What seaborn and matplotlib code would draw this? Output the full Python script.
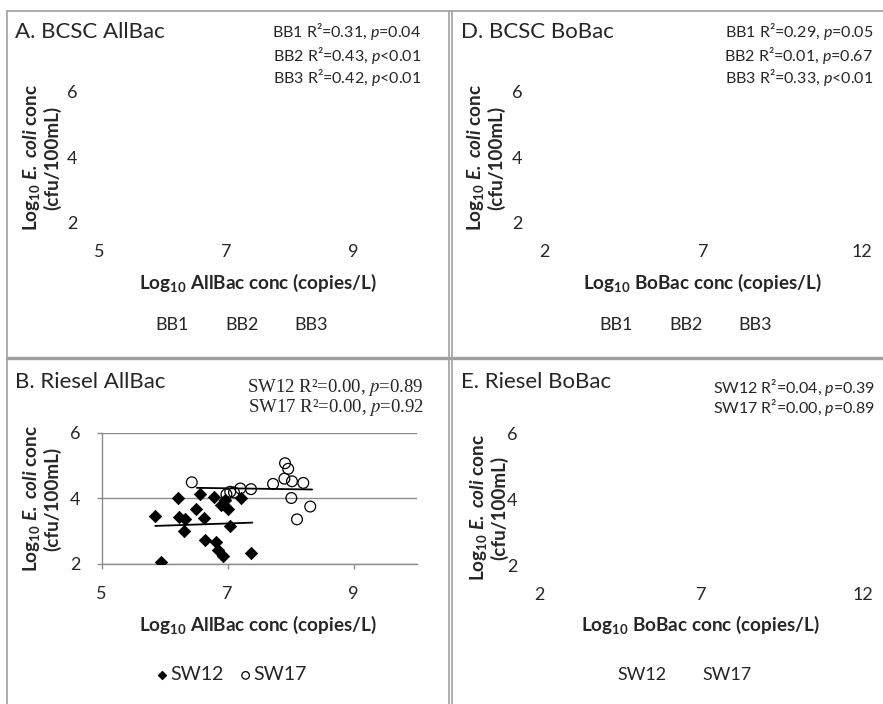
import numpy as np
import pandas as pd
import matplotlib
matplotlib.use("Agg")
import matplotlib.pyplot as plt
from matplotlib.lines import Line2D
import seaborn as sns

# ---------------- data ----------------
# Panel B: Riesel AllBac
sw12_x = [5.85, 5.94, 6.21, 6.22, 6.32, 6.31, 6.50, 6.56, 6.62, 6.64,
          6.78, 6.82, 6.84, 6.92, 6.89, 6.96, 7.01, 7.03, 7.21, 7.37]
sw12_y = [3.46, 2.05, 4.00, 3.44, 3.37, 3.01, 3.67, 4.13, 3.41, 2.73,
          4.05, 2.68, 2.43, 2.24, 3.80, 3.95, 3.67, 3.16, 4.00, 2.35]
sw17_x = [6.43, 6.98, 7.04, 7.10, 7.20, 7.37, 7.72, 7.91, 7.96, 7.90,
          8.02, 8.20, 8.01, 8.31, 8.10]
sw17_y = [4.49, 4.12, 4.20, 4.18, 4.30, 4.28, 4.44, 5.07, 4.90, 4.60,
          4.52, 4.47, 4.01, 3.75, 3.36]
# trendline end points
sw12_trend_x = [5.85, 7.39]
sw12_trend_y = [3.16, 3.26]
sw17_trend_x = [6.51, 8.34]
sw17_trend_y = [4.32, 4.27]

allbac_ticks = [5, 7, 9]
bobac_ticks = [2, 7, 12]
ecoli_ticks = [2, 4, 6]

titles = ["A. BCSC AllBac", "D. BCSC BoBac", "B. Riesel AllBac", "E. Riesel BoBac"]
stats_A = ["BB1 R²=0.31, $\\mathit{p}$=0.04",
           "BB2 R²=0.43, $\\mathit{p}$<0.01",
           "BB3 R²=0.42, $\\mathit{p}$<0.01"]
stats_D = ["BB1 R²=0.29, $\\mathit{p}$=0.05",
           "BB2 R²=0.01, $\\mathit{p}$=0.67",
           "BB3 R²=0.33, $\\mathit{p}$<0.01"]
stats_B = ["SW12 R²=0.00, $\\mathit{p}$=0.89",
           "SW17 R²=0.00, $\\mathit{p}$=0.92"]
stats_E = ["SW12 R²=0.04, $\\mathit{p}$=0.39",
           "SW17 R²=0.00, $\\mathit{p}$=0.89"]
bb_sites = ["BB1", "BB2", "BB3"]
sw_sites = ["SW12", "SW17"]

xlab_all = r"Log$_{\mathbf{10}}$ AllBac conc (copies/L)"
xlab_bo = r"Log$_{\mathbf{10}}$ BoBac conc (copies/L)"
ylab = "Log$_{\\mathbf{10}}$ $\\mathbfit{E.}$ $\\mathbfit{coli}$ conc\n(cfu/100mL)"

# ---------------- style ----------------
sns.set_style("white")
plt.rcParams['font.family'] = ['Lato', 'DejaVu Sans']
plt.rcParams['mathtext.fontset'] = 'custom'
plt.rcParams['mathtext.rm'] = 'Lato'
plt.rcParams['mathtext.it'] = 'Lato:italic'
plt.rcParams['mathtext.bf'] = 'Lato:bold'
plt.rcParams['mathtext.bfit'] = 'Lato:bold:italic'
plt.rcParams['mathtext.sf'] = 'Lato'

W, H = 883, 704
fig = plt.figure(figsize=(W / 100, H / 100), dpi=100)
fig.patch.set_facecolor('white')

GRID = '#8c8c8c'
BORDER = '#a0a0a0'
TICK_FS = 13
LAB_FS = 13.6
TITLE_FS = 16
STAT_FS = 11.5
LEG_FS = 13


def fxy(px, py):
    return px / W, 1 - py / H


def make_axes(left, top, right, bottom):
    return fig.add_axes([left / W, 1 - bottom / H, (right - left) / W, (bottom - top) / H])


def style_empty(ax, xlim, xticks):
    ax.set_xlim(*xlim)
    ax.set_ylim(2, 6)
    ax.set_xticks(xticks)
    ax.set_yticks(ecoli_ticks)
    for s in ax.spines.values():
        s.set_visible(False)
    ax.tick_params(axis='x', length=0, pad=15.5, labelsize=TICK_FS)
    ax.tick_params(axis='y', length=0, pad=15.5, labelsize=TICK_FS)
    ax.patch.set_alpha(0)


def add_labels(ax, xlab, xl_pos, yl_pos):
    fig.text(*fxy(*xl_pos), xlab, ha='center', va='center', fontsize=LAB_FS,
             fontweight='bold')
    fig.text(*fxy(*yl_pos), ylab, ha='center', va='center', rotation=90,
             fontsize=LAB_FS, fontweight='bold', linespacing=1.1,
             multialignment='center')


def add_stats(lines, right, ys, **kw):
    for s, y in zip(lines, ys):
        fig.text(*fxy(right, y), s, ha='right', va='center', **kw)


def empty_legend(ax, labels, center):
    handles = [Line2D([], [], linestyle='none') for _ in labels]
    ax.legend(handles, labels, loc='center', bbox_to_anchor=fxy(*center),
              bbox_transform=fig.transFigure, ncol=len(labels), frameon=False,
              fontsize=LEG_FS, handlelength=1.0, handletextpad=0.4,
              columnspacing=0.6, borderpad=0)


# ---------------- panel A ----------------
axA = make_axes(99, 92, 417, 222)
style_empty(axA, (5, 10), allbac_ticks)
fig.text(*fxy(15, 32), titles[0], ha='left', va='center', fontsize=TITLE_FS)
add_stats(stats_A, 421, [32, 55, 78], fontsize=STAT_FS)
add_labels(axA, xlab_all, (258, 283), (41, 158))
empty_legend(axA, bb_sites, (229, 325))

# ---------------- panel D ----------------
axD = make_axes(544, 92, 862, 222)
style_empty(axD, (2, 12), bobac_ticks)
fig.text(*fxy(461, 32), titles[1], ha='left', va='center', fontsize=TITLE_FS)
add_stats(stats_D, 873, [32, 55, 78], fontsize=STAT_FS)
add_labels(axD, xlab_bo, (702, 283), (485, 158))
empty_legend(axD, bb_sites, (673, 325))

# ---------------- panel E ----------------
axE = make_axes(539, 433, 863, 565)
style_empty(axE, (2, 12), bobac_ticks)
fig.text(*fxy(461, 382), titles[3], ha='left', va='center', fontsize=TITLE_FS)
add_stats(stats_E, 875, [387, 408], fontsize=STAT_FS)
add_labels(axE, xlab_bo, (700, 625), (488, 508))
empty_legend(axE, sw_sites, (672, 675))

# ---------------- panel B ----------------
axB = make_axes(101.7, 432.7, 416.7, 564)
df12 = pd.DataFrame({'x': sw12_x, 'y': sw12_y})
df17 = pd.DataFrame({'x': sw17_x, 'y': sw17_y})
sns.scatterplot(data=df12, x='x', y='y', marker='D', s=40, color='black',
                edgecolor='black', linewidth=0.5, ax=axB, label='SW12', zorder=3)
sns.scatterplot(data=df17, x='x', y='y', marker='o', s=60, facecolor='none',
                edgecolor='black', linewidth=0.9, ax=axB, label='SW17', zorder=4)
sns.lineplot(x=sw12_trend_x, y=sw12_trend_y, color='black', linewidth=1.3,
             ax=axB, zorder=5, legend=False)
sns.lineplot(x=sw17_trend_x, y=sw17_trend_y, color='black', linewidth=1.3,
             ax=axB, zorder=5, legend=False)
axB.set_xlim(5, 10)
axB.set_ylim(2, 6)
axB.set_xticks(allbac_ticks)
axB.set_yticks(ecoli_ticks)
axB.set_xlabel('')
axB.set_ylabel('')
axB.grid(axis='y', color=GRID, linewidth=1.0)
axB.grid(axis='x', visible=False)
axB.set_axisbelow(True)
for k in ['top', 'right']:
    axB.spines[k].set_visible(False)
for k in ['left', 'bottom']:
    axB.spines[k].set_color(GRID)
    axB.spines[k].set_linewidth(1.0)
axB.tick_params(axis='both', direction='out', length=3.5, width=1.0, color=GRID,
                labelsize=TICK_FS, pad=12)
axB.tick_params(axis='x', bottom=True)
axB.tick_params(axis='y', left=True)
axB.patch.set_alpha(0)
fig.text(*fxy(15, 382), titles[2], ha='left', va='center', fontsize=TITLE_FS)
add_stats(stats_B, 424, [387, 408], fontsize=13.5, family='Liberation Serif',
          math_fontfamily='stix')
add_labels(axB, xlab_all, (258, 625), (41, 499))
h, l = axB.get_legend_handles_labels()
axB.legend(h, l, loc='center', bbox_to_anchor=fxy(232, 675),
           bbox_transform=fig.transFigure, ncol=2, frameon=False,
           fontsize=14, handlelength=0.5, handletextpad=0.15,
           columnspacing=0.9, borderpad=0, markerscale=0.7)

# ---------------- table borders ----------------
def hline(y, x0, x1, lw=1.2):
    fig.add_artist(Line2D([x0 / W, x1 / W], [1 - y / H, 1 - y / H],
                          transform=fig.transFigure, color=BORDER, linewidth=lw))


def vline(x, y0, y1, lw=1.2):
    fig.add_artist(Line2D([x / W, x / W], [1 - y0 / H, 1 - y1 / H],
                          transform=fig.transFigure, color=BORDER, linewidth=lw))


hline(11, 7, W)
vline(7.5, 11, H)
vline(448.5, 11, H)
vline(451.5, 11, H)
hline(358, 7, W, lw=2.4)

fig.savefig("out.png", dpi=100, facecolor='white')
